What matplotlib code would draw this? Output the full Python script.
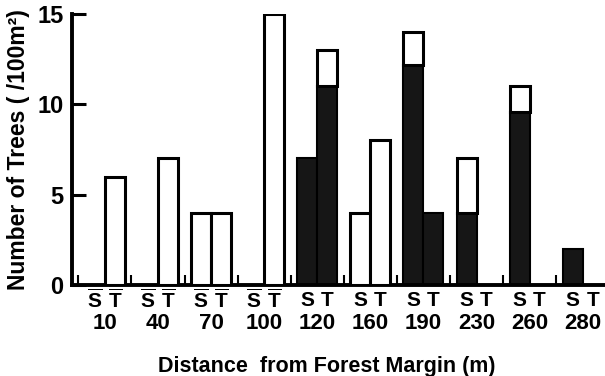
import matplotlib.pyplot as plt
import numpy as np

plt.rcParams['font.family'] = ['Liberation Sans', 'DejaVu Sans']
plt.rcParams['font.weight'] = 'bold'
plt.rcParams['mathtext.fontset'] = 'custom'
plt.rcParams['mathtext.bf'] = 'Liberation Sans:bold'
plt.rcParams['mathtext.rm'] = 'Liberation Sans:bold'

# distances from the forest margin (m)
distances = ['10', '40', '70', '100', '120', '160', '190', '230', '260', '280']
# S: dark part and total height
s_dark = [0, 0, 0, 0, 7, 0, 12.2, 4, 9.6, 2]
s_total = [0, 0, 4, 0, 7, 4, 14, 7, 11, 2]
# T: dark part and total height
t_dark = [0, 0, 0, 0, 11, 0, 4, 0, 0, 0]
t_total = [6, 7, 4, 15, 13, 8, 4, 0, 0, 0]
# groups whose S/T labels carry a bar on top
overlined = [True, True, True, True, False, False, False, False, False, False]

dark = '#161616'
bw = 0.376

fig = plt.figure(figsize=(6.05, 3.76), dpi=100)
ax = fig.add_axes([0.119, 0.242, 0.881, 0.721])

x = np.arange(len(distances))
for off, dk, tot in [(-bw / 2, s_dark, s_total), (bw / 2, t_dark, t_total)]:
    dk = np.array(dk, dtype=float)
    tot = np.array(tot, dtype=float)
    white = tot - dk
    # dark lower part
    m = dk > 0
    ax.bar(x[m] + off, dk[m], width=bw, color=dark, edgecolor='black', linewidth=1.5, zorder=2)
    # white upper part
    m = white > 0
    ax.bar(x[m] + off, white[m], bottom=dk[m], width=bw, color='white', edgecolor='black',
           linewidth=2.2, zorder=3)

ax.set_xlim(-0.62, 9.42)
ax.set_ylim(0, 15)
ax.set_yticks([0, 5, 10, 15])
ax.set_yticklabels(['0', '5', '10', '15'], fontsize=17, fontweight='bold')
ax.tick_params(axis='y', direction='in', length=10, width=2.2, pad=6)

# small separator ticks between groups
ax.set_xticks(x - 0.5)
ax.set_xticklabels([])
ax.tick_params(axis='x', direction='in', length=7, width=1.5)

for side in ['top', 'right']:
    ax.spines[side].set_visible(False)
ax.spines['left'].set_linewidth(2.8)
ax.spines['bottom'].set_linewidth(2.8)

for i, d in enumerate(distances):
    if overlined[i]:
        s_lab, t_lab = r'$\overline{\mathbf{S}}$', r'$\overline{\mathbf{T}}$'
    else:
        s_lab, t_lab = 'S', 'T'
    for off, lab in [(-bw / 2, s_lab), (bw / 2, t_lab)]:
        ax.annotate(lab, xy=(i + off, 0), xycoords=('data', 'axes fraction'),
                    xytext=(0, -11), textcoords='offset points', ha='center', va='center',
                    fontsize=15, fontweight='bold')
    ax.annotate(d, xy=(i, 0), xycoords=('data', 'axes fraction'),
                xytext=(0, -27.5), textcoords='offset points', ha='center', va='center',
                fontsize=16, fontweight='bold',
                family=['Liberation Sans Narrow', 'Liberation Sans'])

ax.set_xlabel('Distance  from Forest Margin (m)', fontsize=15.5, fontweight='bold')
ax.xaxis.set_label_coords(0.478, -0.30)
ax.xaxis.label.set_va('center')
ax.set_ylabel('Number of Trees ( /100m²)', fontsize=16.5, fontweight='bold', labelpad=5)

fig.savefig('out.png', dpi=100)
